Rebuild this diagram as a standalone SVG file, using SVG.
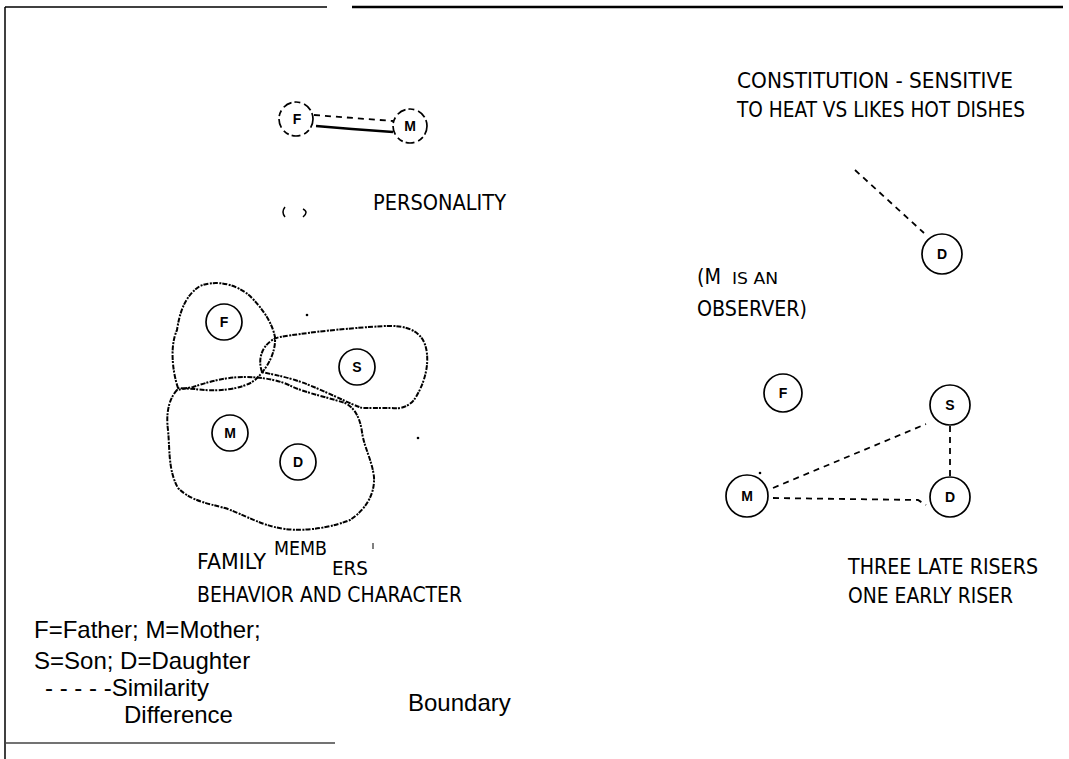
<svg xmlns="http://www.w3.org/2000/svg" width="1069" height="759" viewBox="0 0 1069 759">
  <style>
    .frame { stroke: #000; fill: none; }
    .node { fill: #fff; stroke: #000; stroke-width: 1.7; }
    .node-broken { fill: #fff; stroke: #000; stroke-width: 1.7; stroke-dasharray: 9 3 6 4; }
    .letter { font-family: "Liberation Sans", Arial, sans-serif; font-size: 14px; font-weight: bold; text-anchor: middle; fill: #000; }
    .blob { fill: none; stroke: #000; stroke-width: 2; stroke-dasharray: 5 1.5 2 1; stroke-linejoin: round; }
    .sim { fill: none; stroke: #000; stroke-width: 1.8; stroke-dasharray: 6 5; }
    .diff { fill: none; stroke: #000; stroke-width: 2.4; }
    .cap { font-family: "DejaVu Sans", Verdana, sans-serif; font-size: 21px; fill: #000; }
    .legend { font-family: "Liberation Sans", Arial, sans-serif; font-size: 24px; fill: #000; }
  </style>

  <!-- page frame -->
  <g id="frame" class="frame">
    <line x1="5" y1="7" x2="327" y2="7" stroke-width="1.5"/>
    <line x1="352" y1="7" x2="1063" y2="7" stroke-width="2.5"/>
    <line x1="5" y1="7" x2="5" y2="759" stroke-width="1.5"/>
    <line x1="5" y1="743" x2="335" y2="743" stroke-width="1.5" stroke="#444"/>
  </g>

  <!-- boundaries around family members -->
  <g id="boundary-father">
    <path class="blob" d="M178,388 C172,370 170,345 177,330 C180,310 186,295 200,286 C215,280 235,283 250,296 C262,308 272,322 275,337 C276,352 268,368 255,380 C242,390 215,392 195,389 Z"/>
  </g>
  <g id="boundary-son">
    <path class="blob" d="M262,372 C256,355 266,340 280,337 C310,332 350,328 385,326 C405,325 422,330 426,348 C430,365 424,385 414,400 C408,407 400,409 392,408 L362,408 C345,402 320,388 295,380 C282,376 270,374 262,372 Z"/>
  </g>
  <g id="boundary-mother-daughter">
    <path class="blob" d="M177,390 C168,400 166,415 168,430 C170,450 168,470 178,488 C190,500 205,503 225,508 C245,515 262,526 285,529 C310,532 335,526 350,520 C365,510 375,495 374,477 C372,460 364,447 362,432 C360,418 355,408 345,403 C330,398 310,394 293,387 C280,380 262,377 245,377 C225,377 208,382 193,387 Z"/>
  </g>

  <!-- stray marks -->
  <g id="marks">
    <circle cx="307" cy="315" r="1.3" fill="#000"/>
    <circle cx="418" cy="438" r="1.3" fill="#000"/>
    <circle cx="760" cy="473" r="1.3" fill="#000"/>
    <line x1="373" y1="543" x2="373" y2="549" stroke="#000" stroke-width="1"/>
  </g>

  <!-- connectors -->
  <g id="connectors">
    <line class="sim" x1="314" y1="115" x2="393" y2="121"/>
    <path class="diff" d="M316,126 L352,129 L393,132"/>
    <line class="sim" x1="855" y1="170" x2="924" y2="233" stroke-width="2.4" stroke-dasharray="5 7"/>
    <line class="sim" x1="773" y1="488" x2="926" y2="424"/>
    <path class="sim" d="M773,498 L918,500 L926,505"/>
    <line class="sim" x1="950" y1="426" x2="950" y2="476"/>
  </g>

  <!-- personality pair -->
  <g id="node-personality-father">
    <circle class="node-broken" cx="296" cy="119" r="17"/>
    <text class="letter" x="297" y="124">F</text>
  </g>
  <g id="node-personality-mother">
    <circle class="node-broken" cx="410" cy="126" r="17"/>
    <text class="letter" x="410" y="131">M</text>
  </g>

  <!-- personality legend mark -->
  <g id="personality-mark" fill="none" stroke="#000" stroke-width="1.5">
    <path d="M285,207 Q281,212 285,217"/>
    <path d="M303,209 Q309,212 303,217"/>
  </g>

  <!-- behavior and character members -->
  <g id="node-bc-father">
    <circle class="node" cx="224" cy="322" r="18"/>
    <text class="letter" x="224" y="327">F</text>
  </g>
  <g id="node-bc-son">
    <circle class="node" cx="357" cy="367" r="18"/>
    <text class="letter" x="357" y="372">S</text>
  </g>
  <g id="node-bc-mother">
    <circle class="node" cx="230" cy="433" r="18"/>
    <text class="letter" x="230" y="438">M</text>
  </g>
  <g id="node-bc-daughter">
    <circle class="node" cx="298" cy="462" r="18"/>
    <text class="letter" x="298" y="467">D</text>
  </g>

  <!-- constitution -->
  <g id="node-constitution-daughter">
    <circle class="node" cx="942" cy="254" r="20"/>
    <text class="letter" x="942" y="259">D</text>
  </g>

  <!-- risers -->
  <g id="node-riser-father">
    <circle class="node" cx="783" cy="393" r="19"/>
    <text class="letter" x="783" y="398">F</text>
  </g>
  <g id="node-riser-son">
    <circle class="node" cx="950" cy="405" r="20"/>
    <text class="letter" x="950" y="410">S</text>
  </g>
  <g id="node-riser-mother">
    <circle class="node" cx="747" cy="496" r="21"/>
    <text class="letter" x="747" y="501">M</text>
  </g>
  <g id="node-riser-daughter">
    <circle class="node" cx="950" cy="497" r="20"/>
    <text class="letter" x="950" y="502">D</text>
  </g>

  <!-- captions -->
  <g id="captions" class="cap">
    <text x="373" y="210" textLength="133" lengthAdjust="spacingAndGlyphs">PERSONALITY</text>
    <text x="737" y="88" textLength="276" lengthAdjust="spacingAndGlyphs">CONSTITUTION - SENSITIVE</text>
    <text x="737" y="117" textLength="288" lengthAdjust="spacingAndGlyphs">TO HEAT VS LIKES HOT DISHES</text>
    <text x="697" y="284" textLength="24" lengthAdjust="spacingAndGlyphs">(M</text>
    <text x="732" y="284" font-size="16" textLength="46" lengthAdjust="spacingAndGlyphs">IS AN</text>
    <text x="697" y="316" textLength="110" lengthAdjust="spacingAndGlyphs">OBSERVER)</text>
    <text x="848" y="574" textLength="190" lengthAdjust="spacingAndGlyphs">THREE LATE RISERS</text>
    <text x="848" y="603" textLength="165" lengthAdjust="spacingAndGlyphs">ONE EARLY RISER</text>
    <text x="197" y="569" textLength="69" lengthAdjust="spacingAndGlyphs">FAMILY</text>
    <text x="274" y="555" font-size="19" textLength="53" lengthAdjust="spacingAndGlyphs">MEMB</text>
    <text x="332" y="575" font-size="19" textLength="36" lengthAdjust="spacingAndGlyphs">ERS</text>
    <text x="197" y="602" textLength="265" lengthAdjust="spacingAndGlyphs">BEHAVIOR AND CHARACTER</text>
  </g>

  <!-- key -->
  <g id="key" class="legend">
    <text x="34" y="638">F=Father; M=Mother;</text>
    <text x="34" y="669">S=Son; D=Daughter</text>
    <text x="45" y="696">- - - - -Similarity</text>
    <text x="124" y="723">Difference</text>
    <text x="408" y="711">Boundary</text>
  </g>
</svg>
